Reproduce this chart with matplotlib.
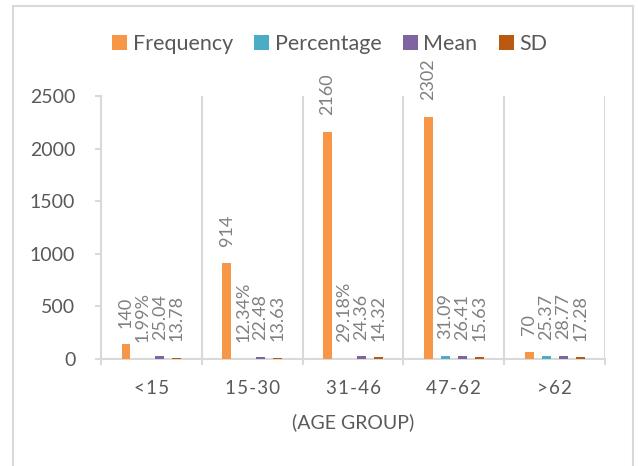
import numpy as np
import matplotlib
matplotlib.use("Agg")
import matplotlib.pyplot as plt
from matplotlib.patches import Rectangle

plt.rcParams["font.family"] = ["Lato", "DejaVu Sans"]

# age groups and the four series per group
age_groups = ["<15", "15-30", "31-46", "47-62", ">62"]
frequency = [140, 914, 2160, 2302, 70]
# first three cells are stored as fractions and shown as percent
percentage = [0.0199, 0.1234, 0.2918, 31.09, 25.37]
percentage_is_fraction = [True, True, True, False, False]
mean = [25.04, 22.48, 24.36, 26.41, 28.77]
sd = [13.78, 13.63, 14.32, 15.63, 17.28]
y_ticks = [0, 500, 1000, 1500, 2000, 2500]

grid_color = "#d9d9d9"
text_color = "#595959"
label_color = "#808080"

fig = plt.figure(figsize=(6.38, 4.66), dpi=100)
ax = fig.add_axes([0.1583, 0.2296, 0.79, 0.5644])

x = np.arange(len(age_groups))
width = 0.089
step = 0.168

series = [
    ("Frequency", frequency, "#F79646", lambda v, i: f"{v:.0f}"),
    ("Percentage", percentage, "#4BACC6",
     lambda v, i: f"{v * 100:.2f}%" if percentage_is_fraction[i] else f"{v:.2f}"),
    ("Mean", mean, "#8064A2", lambda v, i: f"{v:.2f}"),
    ("SD", sd, "#BA5A12", lambda v, i: f"{v:.2f}"),
]

for k, (name, values, color, fmt) in enumerate(series):
    xs = x + (k - 1.5) * step
    ax.bar(xs, values, width=width, color=color, label=name, zorder=3)
    for i, (xi, v) in enumerate(zip(xs, values)):
        ax.annotate(fmt(v, i), xy=(xi, v), xytext=(0, 12), textcoords="offset points",
                    rotation=90, ha="center", va="bottom", fontsize=13,
                    color=label_color)

ax.set_xlim(-0.5, len(age_groups) - 0.5)
ax.set_ylim(0, 2500)
ax.set_yticks(y_ticks)
ax.set_xticks(x)
# slightly spaced category labels
ax.set_xticklabels(["\u200a".join(g) for g in age_groups])
ax.set_xticks(np.arange(len(age_groups) + 1) - 0.5, minor=True)
ax.grid(axis="x", which="minor", color=grid_color, linewidth=1.5, zorder=0)

ax.tick_params(axis="x", which="major", length=0, pad=15, labelsize=13.5,
               labelcolor=text_color)
ax.tick_params(axis="x", which="minor", length=4, width=1.5, color=grid_color)
ax.tick_params(axis="y", length=4.5, width=1.5, color=grid_color, pad=14,
               labelsize=14, labelcolor=text_color)

for side in ["top", "right"]:
    ax.spines[side].set_visible(False)
for side in ["left", "bottom"]:
    ax.spines[side].set_color(grid_color)
    ax.spines[side].set_linewidth(1.5)

ax.set_xlabel("(AGE GROUP)", fontsize=14, color=text_color, labelpad=12)

fig.legend(loc="center", bbox_to_anchor=(0.517, 0.906), ncol=4, frameon=False,
           fontsize=15.5, labelcolor=text_color, handlelength=0.7, handleheight=0.7,
           handletextpad=0.25, columnspacing=1.0)

# chart border
fig.patches.append(Rectangle((13 / 638, -0.05), 620 / 638, 1.05 - 6 / 466,
                             transform=fig.transFigure, fill=False,
                             edgecolor=grid_color, linewidth=1.5))

fig.savefig("out.png", dpi=100)
